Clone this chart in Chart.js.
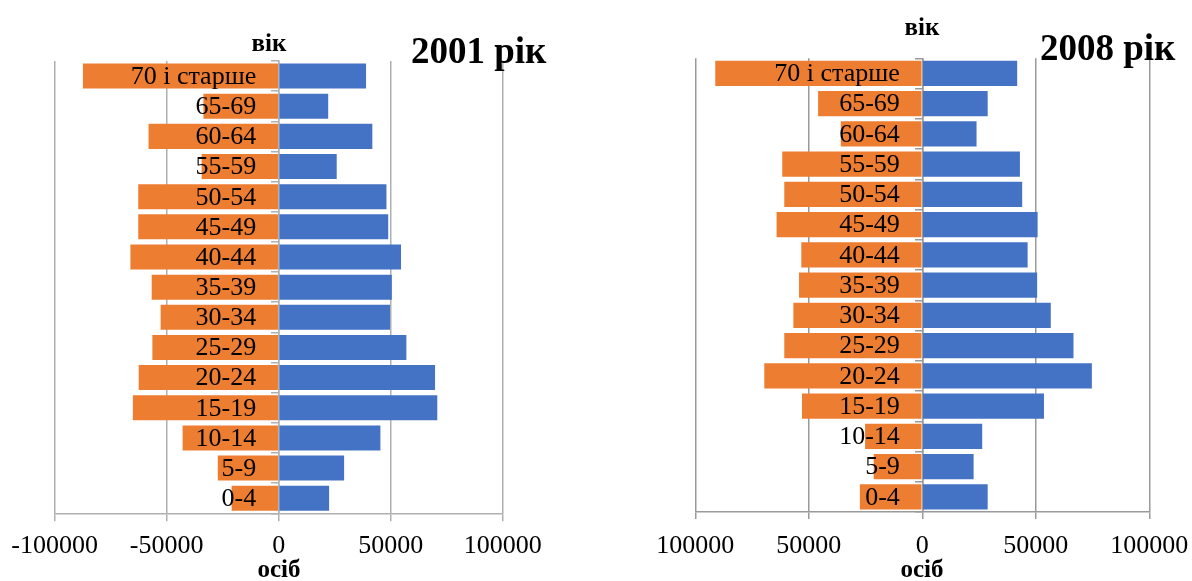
<!DOCTYPE html>
<html>
<head>
<meta charset="utf-8">
<script src="https://cdn.jsdelivr.net/npm/chart.js@4.4.0/dist/chart.umd.min.js"></script>
<style>
body { margin: 0; background: #fff; width: 1192px; height: 581px; position: relative; overflow: hidden; font-family: "Liberation Serif", "Times New Roman", serif; }
canvas { position: absolute; top: 0; }
#c2001 { left: 0; }
#c2008 { left: 630px; }
.lbl { position: absolute; font-weight: bold; line-height: 1; white-space: nowrap; color: #000; }
.axis { font-size: 25px; width: 100px; text-align: center; }
.year { font-size: 37px; }
</style>
</head>
<body>
<canvas id="c2001" width="560" height="581"></canvas>
<canvas id="c2008" width="562" height="581"></canvas>
<div class="lbl axis" style="left:219px;top:30px">вік</div>
<div class="lbl axis" style="left:872px;top:14px">вік</div>
<div class="lbl axis" style="left:229px;top:556px">осіб</div>
<div class="lbl axis" style="left:872px;top:556px">осіб</div>
<div class="lbl year" style="left:411px;top:32px">2001 рік</div>
<div class="lbl year" style="left:1040px;top:29px">2008 рік</div>
<script>
// вікові групи, зверху вниз
const ageGroups = ['70 і старше', '65-69', '60-64', '55-59', '50-54', '45-49', '40-44', '35-39',
    '30-34', '25-29', '20-24', '15-19', '10-14', '5-9', '0-4']

// ліва (помаранчева) та права (синя) частина піраміди, осіб
const left2001 = [87400, 33600, 58100, 34400, 62700, 62700, 66200, 56700, 52700, 56400, 62500, 65100, 42900, 27200, 21000]
const right2001 = [39000, 22100, 41800, 25900, 48100, 48900, 54600, 50500, 49700, 57000, 69800, 70800, 45400, 29200, 22500]
const left2008 = [91200, 45900, 35900, 61700, 60800, 64200, 53300, 54300, 56800, 60800, 69600, 53000, 25200, 21400, 27500]
const right2008 = [41800, 28800, 23900, 43000, 44000, 50800, 46400, 50600, 56600, 66600, 74700, 53600, 26400, 22600, 28800]

const xTicks = [-100000, -50000, 0, 50000, 100000]

const serif = '"Liberation Serif", "Times New Roman", serif'

const ageLabels = {
    id: 'ageLabels',
    afterDatasetsDraw(chart) {
        const { ctx, scales: { x, y } } = chart
        const x0 = x.getPixelForValue(0) - 22.5
        ctx.save()
        ctx.font = '26px ' + serif
        ctx.fillStyle = '#000'
        ctx.textAlign = 'right'
        ctx.textBaseline = 'middle'
        y.getLabels().forEach((label, i) => {
            ctx.fillText(label, x0, y.getPixelForTick(i) + 1)
        })
        ctx.restore()
    }
}

function pyramid(id, left, right, opt) {
    return new Chart(document.getElementById(id), {
        type: 'bar',
        data: {
            labels: ageGroups,
            datasets: [{
                data: left.map(v => -v),
                backgroundColor: '#ED7D31',
                barPercentage: 0.83,
                categoryPercentage: 1
            }, {
                data: right,
                backgroundColor: '#4472C4',
                barPercentage: 0.83,
                categoryPercentage: 1
            }]
        },
        options: {
            indexAxis: 'y',
            responsive: false,
            animation: false,
            layout: { padding: opt.padding },
            plugins: {
                legend: { display: false },
                tooltip: { enabled: false }
            },
            scales: {
                x: {
                    stacked: true,
                    min: xTicks[0],
                    max: xTicks[xTicks.length - 1],
                    afterBuildTicks: (scale) => { scale.ticks = xTicks.map(v => ({ value: v })) },
                    ticks: {
                        color: '#000',
                        font: { family: serif, size: 26, lineHeight: opt.labelLine },
                        padding: 0,
                        maxRotation: 0,
                        callback: opt.format
                    },
                    grid: { color: opt.gridColor, lineWidth: 1.5, tickLength: opt.tickLength },
                    border: { color: opt.gridColor, width: 1.5 }
                },
                y: {
                    stacked: true,
                    position: { x: 0 },
                    z: 1,
                    offset: true,
                    ticks: { display: false },
                    grid: { offset: true, drawOnChartArea: false, tickLength: 7, color: opt.gridColor, lineWidth: 1.5 },
                    border: { color: opt.gridColor, width: 1.5 }
                }
            }
        },
        plugins: [ageLabels]
    })
}

pyramid('c2001', left2001, right2001, {
    padding: { left: 54.7, right: 57.3, top: 61, bottom: 10.3 },
    labelLine: 1.9,
    tickLength: 8,
    gridColor: '#b0b0b0',
    format: (value) => String(value)
})

pyramid('c2008', left2008, right2008, {
    padding: { left: 65.3, right: 42.7, top: 58.3, bottom: 8 },
    labelLine: 2.077,
    tickLength: 7,
    gridColor: '#9a9a9a',
    format: (value) => String(Math.abs(value))
})
</script>
</body>
</html>
